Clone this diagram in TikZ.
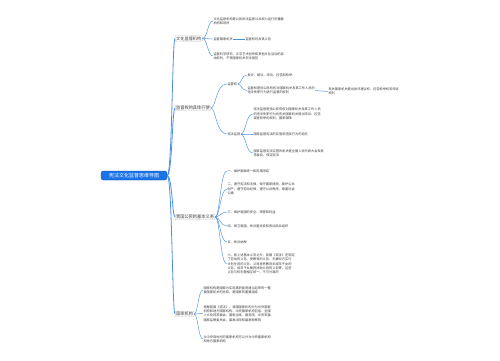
\documentclass[tikz,border=0pt]{standalone}
\usepackage{fontspec}
\setmainfont{Noto Sans CJK SC}
\usetikzlibrary{calc}
\definecolor{lnblue}{RGB}{74,144,226}
\definecolor{rootblue}{RGB}{26,115,232}
\definecolor{txt}{RGB}{60,60,60}
\newcommand\leaffont{\fontsize{3.2}{4.3}\selectfont}
\newcommand\brfont{\fontsize{4.2}{5}\selectfont}
\newcommand\rootfont{\fontsize{5}{6}\selectfont}
\begin{document}
\begin{tikzpicture}[x=1pt,y=-1pt,
  leaf/.style={anchor=west, inner sep=0.3pt, font=\leaffont, text=txt, align=left},
  branch/.style={anchor=west, draw=gray!45, line width=0.3pt, rounded corners=0.8pt, inner xsep=1pt, inner ysep=0.8pt, font=\brfont, text=txt},
  rootnode/.style={fill=rootblue, draw=rootblue!70!black, line width=0.4pt, text=white, rounded corners=2.5pt, inner xsep=8pt, minimum height=9pt, inner ysep=0pt, font=\rootfont},
  conn/.style={draw=lnblue, line width=0.45pt},
  trunk/.style={draw=lnblue, line width=0.8pt},
  brace/.style={to path={.. controls ($(\tikztostart)+(#1,0)$) and ($(\tikztostart |- \tikztotarget)+(#1,0)$) .. (\tikztotarget) \tikztonodes}},
  brace/.default=5]
\useasboundingbox (0,0) rectangle (500,360);
\fill[white] (0,0) rectangle (500,360);

% root
\node[rootnode] (root) at (134,175.5) {宪法文化监督思维导图};

% branches
\node[branch] (b1) at (175,38.5) {文化监督机构};
\node[branch] (b2) at (175,108) {监督权的具体行使};
\node[branch] (b3) at (175,217) {我国公民的基本义务};
\node[branch] (b4) at (175,314) {国家机构};

% branch 1 leaves
\node[leaf] (l11) at (213,21) {文化监督机构是公民依法监督公共权力运行的重要\\机构和场所};
\node[leaf] (l12) at (213,39) {监督国家机关};
\node[leaf] (l121) at (245,39) {监督权利及其义务};
\node[leaf] (l13) at (213,56) {监督科学研究、文学艺术创作和其他文化活动的自\\由权利，不受国家机关非法侵犯};

% branch 2
\node[leaf] (l21) at (227,84) {监督权};
\node[leaf] (l22) at (227,134) {宪法监督};
\node[leaf] (l211) at (247,75) {批评、建议、申诉、控告和检举};
\node[leaf] (l212) at (247,90.5) {监督权是指公民有权对国家机关及其工作人员的\\违法失职行为进行监督的权利};
\node[leaf] (l2121) at (328,91.5) {有关国家机关提出批评建议权、控告检举权和申诉\\权利};
\node[leaf] (l221) at (253,114) {宪法监督是指公民有权对国家机关及其工作人员\\的违法失职行为向有关国家机关提出申诉、控告\\或者检举的权利，国家保障};
\node[leaf] (l222) at (253,134) {国家监督宪法的实施和违宪行为的追究};
\node[leaf] (l223) at (253,153) {国家监督宪法实施的机关是全国人民代表大会及其\\常委会，保证宪法};

% branch 3
\node[leaf] (l31) at (227,171) {一、维护国家统一和民族团结};
\node[leaf] (l32) at (227,189) {二、遵守宪法和法律，保守国家秘密，爱护公共\\财产，遵守劳动纪律，遵守公共秩序，尊重社会\\公德};
\node[leaf] (l33) at (227,212) {三、维护祖国的安全、荣誉和利益};
\node[leaf] (l34) at (227,226) {四、保卫祖国、依法服兵役和参加民兵组织};
\node[leaf] (l35) at (227,242) {五、依法纳税};
\node[leaf] (l36) at (227,264) {六、除上述基本义务之外，我国《宪法》还规定\\了劳动的义务、受教育的义务、夫妻双方实行\\计划生育的义务、父母抚养教育未成年子女的\\义务、成年子女赡养扶助父母的义务等，这些\\义务与权利是相互统一、不可分离的};

% branch 4
\node[leaf] (l41) at (203,290) {国家机构是国家为实现其职能而建立起来的一整\\套国家机关的总和，是国家的重要组成};
\node[leaf] (l42) at (203,313.5) {根据我国《宪法》，我国国家机构分为中央国家\\机构和地方国家机构。中央国家机构包括：全国\\人大及其常委会、国家主席、国务院、中央军委、\\国家监察委员会、最高法院和最高检察院};
\node[leaf] (l43) at (203,339) {从中央到地方的国家机构可以分为中央国家机构\\和地方国家机构};

% connectors root -> branches
\foreach \b in {b1,b2,b3,b4}
  \draw[trunk] (root.east) to[brace=5] (\b.west);

% branch 1
\foreach \c in {l11,l12,l13}
  \draw[conn] (b1.east) to[brace=5] (\c.west);
\draw[conn] (l12.east) -- (l121.west);

% branch 2
\foreach \c in {l21,l22}
  \draw[conn] (b2.east) to[brace=5] (\c.west);
\foreach \c in {l211,l212}
  \draw[conn] (l21.east) to[brace=4] (\c.west);
\draw[conn] (l212.east) -- (l2121.west);
\foreach \c in {l221,l222,l223}
  \draw[conn] (l22.east) to[brace=5] (\c.west);

% branch 3
\foreach \c in {l31,l32,l33,l34,l35,l36}
  \draw[conn] (b3.east) to[brace=5] (\c.west);

% branch 4
\foreach \c in {l41,l42,l43}
  \draw[conn] (b4.east) to[brace=4] (\c.west);
\end{tikzpicture}
\end{document}
